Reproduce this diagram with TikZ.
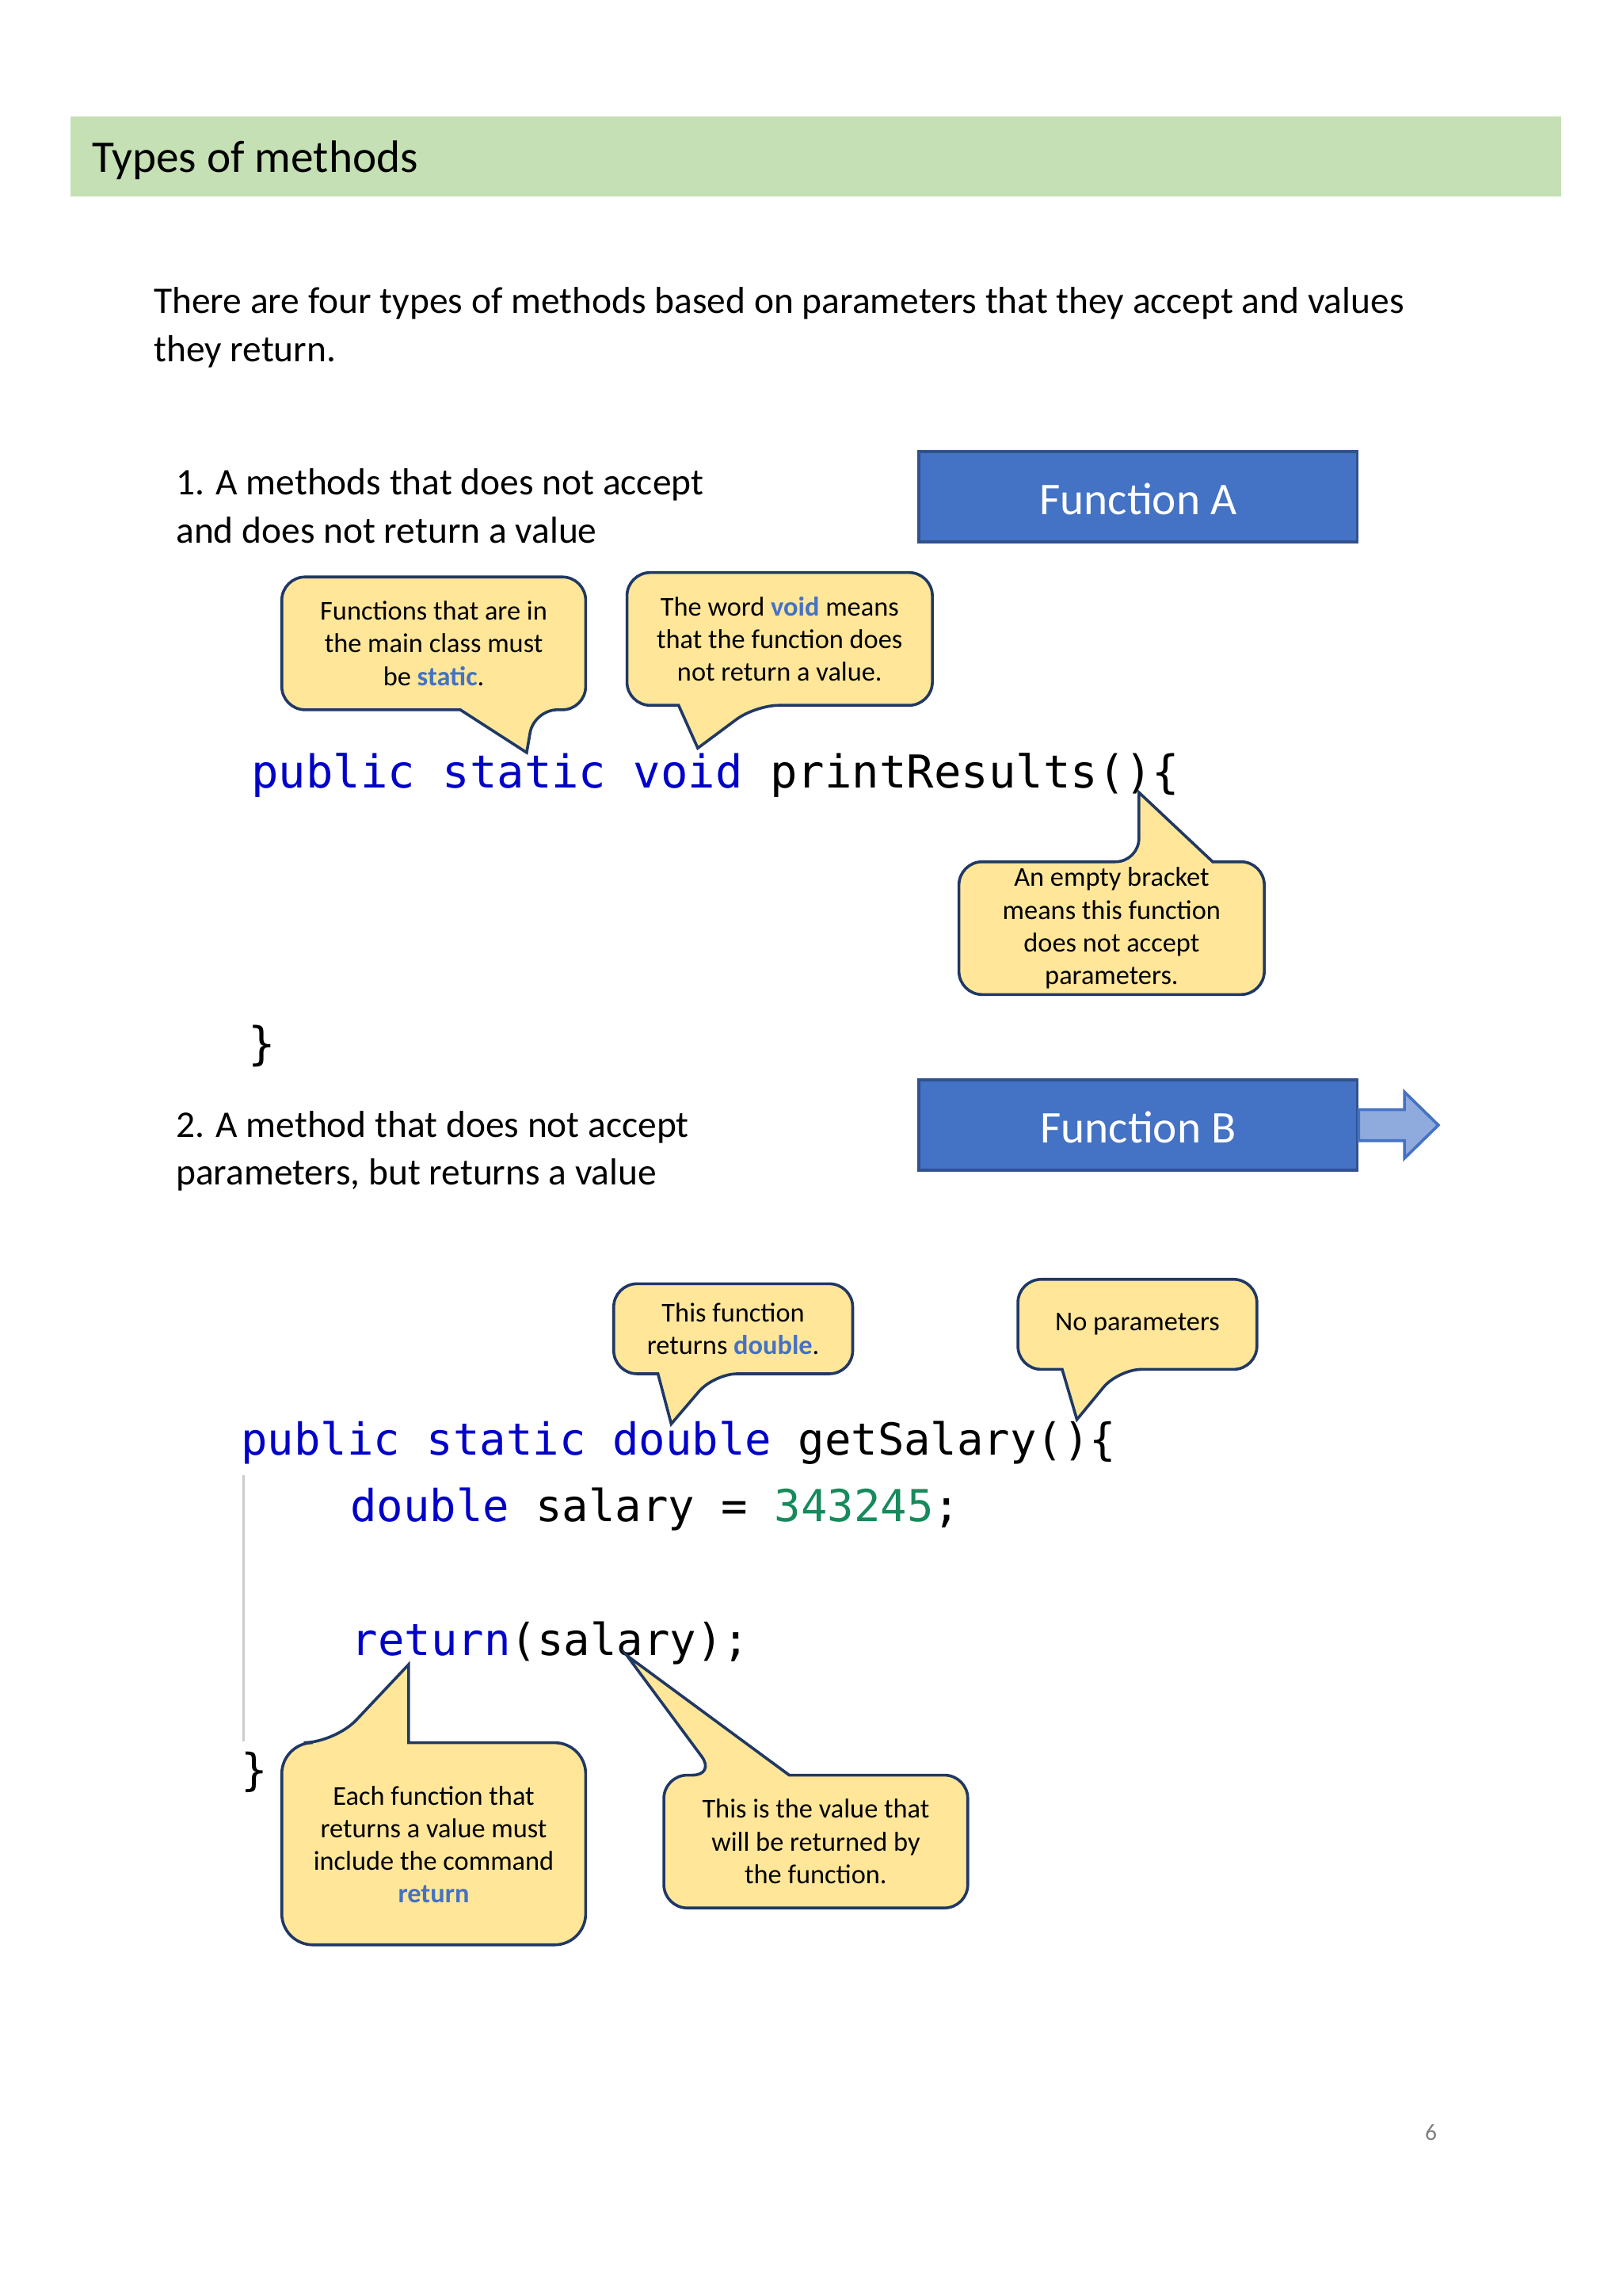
\documentclass[tikz,border=0pt]{standalone}
\usepackage{fontspec}
\setmainfont{Carlito}
\newfontfamily\codefont{DejaVu Sans Mono}
\begin{document}
\begin{tikzpicture}[x=0.02cm,y=-0.02cm,
  body/.style={anchor=base west,inner sep=0,font=\fontsize{14.5}{18.5}\selectfont,align=left},
  call/.style={fill=callfill,draw=calldraw,line width=1.1pt},
  ctext/.style={align=center,font=\fontsize{10.5}{12.6}\selectfont,inner sep=0},
  fbox/.style={fill=fblue,draw=fborder,line width=1.2pt},
  ftext/.style={text=white,font=\fontsize{17.5}{20}\selectfont},
  code/.style={anchor=base west,inner sep=0,font=\codefont\fontsize{17.5}{20}\selectfont},
  codeb/.style={anchor=base west,inner sep=0,font=\codefont\fontsize{17}{20}\selectfont}]
\definecolor{callfill}{HTML}{FFE699}
\definecolor{calldraw}{HTML}{203864}
\definecolor{fblue}{HTML}{4472C4}
\definecolor{fborder}{HTML}{2F528F}
\definecolor{kwblue}{HTML}{0000C8}
\definecolor{numgreen}{HTML}{178A5C}
\definecolor{hl}{HTML}{4472C4}
\useasboundingbox (0,0) rectangle (1100,1556);
\fill[white] (0,0) rectangle (1100,1556);
% header
\fill[fill={rgb,255:red,197;green,224;blue,180}] (48,79) rectangle (1058,133);
\node[anchor=base west,inner sep=0,font=\fontsize{17.5}{20}\selectfont] (title) at (62,117) {Types of methods};
\node[body] (intro) at (104,245) {There are four types of methods based on parameters that they accept and values\\they return.};
\node[body] (t1) at (119,368) {1. A methods that does not accept\\and does not return a value};
\node[body] (t2) at (119,803) {2. A method that does not accept\\parameters, but returns a value};
% function boxes
\draw[fbox] (623,306) rectangle (920,367);
\node[ftext] (fa) at (771.5,338) {Function A};
\draw[fbox] (623,732) rectangle (920,793);
\node[ftext] (fb) at (771.5,764) {Function B};
\draw[fill={rgb,255:red,143;green,170;blue,220},draw=fblue,line width=1.1pt]
  (921,752) -- (952,752) -- (952,740) -- (975,762.5) -- (952,785) -- (952,773) -- (921,773) -- cycle;
% code 1
\node[code] (c1) at (170,534) {\textcolor{kwblue}{public static void} printResults()\{};
\node[code] (c1e) at (168,718) {\}};
% code 2
\draw[gray!40,line width=1pt] (165,1000) -- (165,1180);
\node[codeb] (c2) at (163,986) {\textcolor{kwblue}{public static double} getSalary()\{};
\node[codeb] (c3) at (237,1031) {\textcolor{kwblue}{double} salary = \textcolor{numgreen}{343245};};
\node[codeb] (c4) at (238,1122) {\textcolor{kwblue}{return}(salary);};
\node[codeb] (c5) at (163,1210) {\}};
% callouts
\draw[call,rounded corners=9] (191,391) -- (397,391) -- (397,481) -- (362,481) [sharp corners] -- (357,510) -- (312,481) [rounded corners=9] -- (191,481) -- cycle;
\node[ctext] (k1) at (294,436) {Functions that are in\\the main class must\\be \textcolor{hl}{\textbf{static}}.};
\draw[call,rounded corners=9] (425,388) -- (632,388) -- (632,478) -- (512,478) [sharp corners] -- (473,507) -- (460,478) [rounded corners=9] -- (425,478) -- cycle;
\node[ctext] (k2) at (528.5,433) {The word \textcolor{hl}{\textbf{void}} means\\that the function does\\not return a value.};
\draw[call,rounded corners=9] (650,584) -- (772,584) [sharp corners] -- (772,537) -- (822,584) [rounded corners=9] -- (857,584) -- (857,674) -- (650,674) -- cycle;
\node[ctext] (k3) at (753.5,629) {An empty bracket\\means this function\\does not accept\\parameters.};
\draw[call,rounded corners=9] (416,870) -- (578,870) -- (578,931) -- (484,931) [sharp corners] -- (455,965) -- (446,931) [rounded corners=9] -- (416,931) -- cycle;
\node[ctext] (k4) at (497,900.5) {This function\\returns \textcolor{hl}{\textbf{double}}.};
\draw[call,rounded corners=9] (690,867) -- (852,867) -- (852,928) -- (758,928) [sharp corners] -- (730,962) -- (720,928) [rounded corners=9] -- (690,928) -- cycle;
\node[ctext] (k5) at (771,897.5) {No parameters};
\draw[call,rounded corners=12] (191,1181) -- (227,1181) [sharp corners] -- (277,1128) -- (277,1181) [rounded corners=12] -- (397,1181) -- (397,1318) -- (191,1318) -- cycle;
\node[ctext] (k6) at (294,1250) {Each function that\\returns a value must\\include the command\\\textcolor{hl}{\textbf{return}}};
\draw[call,rounded corners=9] (450,1203) -- (485,1203) [sharp corners] -- (425,1122) -- (535,1203) [rounded corners=9] -- (656,1203) -- (656,1293) -- (450,1293) -- cycle;
\node[ctext] (k7) at (553,1248) {This is the value that\\will be returned by\\the function.};
\node[font=\fontsize{9}{10}\selectfont,text=gray] (pg) at (970,1445) {6};
\end{tikzpicture}
\end{document}
